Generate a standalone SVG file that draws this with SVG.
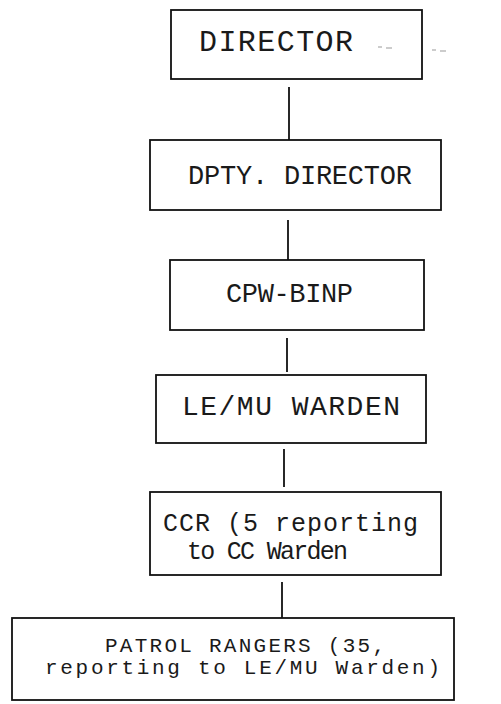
<svg xmlns="http://www.w3.org/2000/svg" width="501" height="704" viewBox="0 0 501 704">
<style>
.box{fill:#fff;stroke:#111;stroke-width:1.8}
.t{font-family:"Liberation Mono","Courier New",monospace;fill:#1a1a1a}
.c{stroke:#111;stroke-width:1.8;fill:none}
.n{stroke:#999;stroke-width:1;fill:none}
</style>
<rect width="501" height="704" fill="#fff"/>
<g id="connectors">
<line class="c" x1="289" y1="87" x2="289" y2="140"/>
<line class="c" x1="288" y1="220" x2="288" y2="260"/>
<line class="c" x1="287" y1="338" x2="287" y2="372"/>
<line class="c" x1="284" y1="449" x2="284" y2="487"/>
<line class="c" x1="282" y1="582" x2="282" y2="618"/>
</g>
<g id="director">
<rect class="box" x="171" y="10" width="251" height="69"/>
<text class="t" x="199" y="51" font-size="30" textLength="154" lengthAdjust="spacing">DIRECTOR</text>
<path class="n" d="M378 47h4M386 48h6M432 50h4M440 51h6"/>
</g>
<g id="dpty-director">
<rect class="box" x="150" y="140" width="291" height="70"/>
<text class="t" x="188" y="184" font-size="27" textLength="224" lengthAdjust="spacing">DPTY. DIRECTOR</text>
</g>
<g id="cpw-binp">
<rect class="box" x="170" y="260" width="254" height="70"/>
<text class="t" x="226" y="302" font-size="27" textLength="127" lengthAdjust="spacing">CPW-BINP</text>
</g>
<g id="le-mu-warden">
<rect class="box" x="156" y="375" width="270" height="68"/>
<text class="t" x="182" y="415" font-size="28" textLength="218" lengthAdjust="spacing">LE/MU WARDEN</text>
</g>
<g id="ccr">
<rect class="box" x="150" y="492" width="291" height="83"/>
<text class="t" x="163" y="531" font-size="25" textLength="255" lengthAdjust="spacing">CCR (5 reporting</text>
<text class="t" x="187" y="559" font-size="25" textLength="161" lengthAdjust="spacing">to CC Warden</text>
</g>
<g id="patrol-rangers">
<rect class="box" x="12" y="618" width="442" height="82"/>
<text class="t" x="105" y="652" font-size="21" textLength="280" lengthAdjust="spacing">PATROL RANGERS (35,</text>
<text class="t" x="45" y="674" font-size="21" textLength="395" lengthAdjust="spacing">reporting to LE/MU Warden)</text>
</g>
</svg>
